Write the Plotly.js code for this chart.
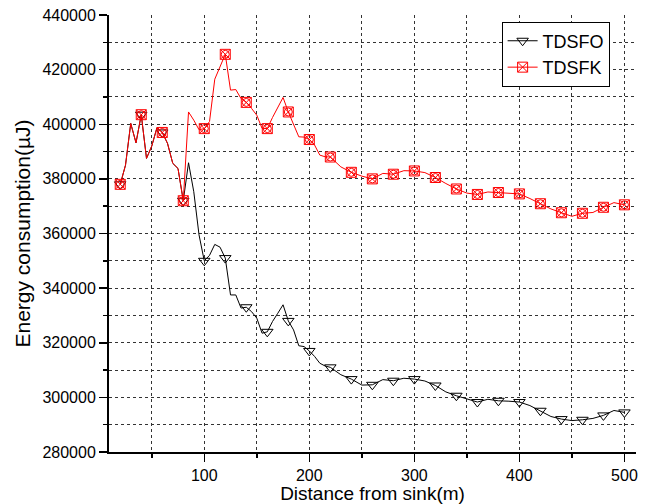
<!DOCTYPE html>
<html>
<head>
<meta charset="utf-8">
<script src="https://cdn.plot.ly/plotly-3.0.1.min.js"></script>
<style>html,body{margin:0;padding:0;background:#fff;}#chart{width:660px;height:504px;}</style>
</head>
<body>
<div id="chart"></div>
<script>
// Distance from sink (m)
var distance = [20,25,30,35,40,45,50,55,60,65,70,75,80,85,90,95,100,105,110,115,120,125,130,135,140,145,150,155,160,165,170,175,180,185,190,195,200,205,210,215,220,
  230,240,250,260,270,280,290,300,310,320,330,340,350,360,370,380,390,400,410,420,430,440,450,460,470,480,490,500];

// Energy consumption (uJ)
var tdsfo = [378000,385000,400300,393200,403500,387500,392000,398800,397000,393000,385700,383800,372000,385900,375300,359500,350000,352000,356000,355000,351000,337500,337500,332700,333000,331400,329000,323500,324000,327800,330800,333900,328000,324700,318900,318600,317000,315000,312500,311500,311000,
  308300,306700,304500,304600,306500,306100,307000,306700,306000,304350,302000,300600,299400,298300,299300,298750,298600,298300,297000,295100,293000,292050,291500,291800,292300,293400,295200,294500];

var tdsfk = [378000,385000,400300,393200,403500,387500,392000,398800,397000,393000,385700,383800,372000,404500,401500,398000,398400,401000,416500,421000,425600,412500,412700,409400,408000,405800,403300,398500,398400,402500,406400,409800,404500,399700,395400,395300,394400,392400,388700,388100,388000,
  384400,382400,381000,380000,382000,381700,383000,382900,382300,380500,378300,376300,374800,374300,375200,375000,374800,374500,372800,370900,369000,367600,366300,367400,367700,369600,371300,370500];

var seriesNames = ['TDSFO', 'TDSFK'];
var xTickVals = [100, 200, 300, 400, 500];
var xTickText = ['100', '200', '300', '400', '500'];
var yTickVals = [280000, 300000, 320000, 340000, 360000, 380000, 400000, 420000, 440000];
var yTickText = ['280000', '300000', '320000', '340000', '360000', '380000', '400000', '420000', '440000'];

function markerSubset(xs, ys) {
  var mx = [], my = [];
  for (var i = 0; i < xs.length; i++) {
    if (xs[i] % 20 === 0) { mx.push(xs[i]); my.push(ys[i]); }
  }
  return {x: mx, y: my};
}
var mo = markerSubset(distance, tdsfo);
var mk = markerSubset(distance, tdsfk);

var FONT = 'Liberation Sans, Arial, sans-serif';
var black = '#000000', red = '#ff0000';

var traces = [
  {x: distance, y: tdsfo, mode: 'lines', line: {color: black, width: 1}, showlegend: false, hoverinfo: 'skip'},
  {x: mo.x, y: mo.y, mode: 'markers', marker: {symbol: 'triangle-down-open', size: 10, color: black, line: {width: 1, color: black}}, showlegend: false},
  {x: distance, y: tdsfk, mode: 'lines', line: {color: red, width: 1}, showlegend: false, hoverinfo: 'skip'},
  {x: mk.x, y: mk.y, mode: 'markers', marker: {symbol: 'square-x-open', size: 10, color: red, line: {width: 1, color: red}}, showlegend: false},
  {x: mk.x, y: mk.y, mode: 'markers', marker: {symbol: 'circle-open', size: 8, color: red, line: {width: 1, color: red}}, showlegend: false},
  {x: [null], y: [null], name: seriesNames[0], mode: 'lines+markers', line: {color: black, width: 1}, marker: {symbol: 'triangle-down-open', size: 10, color: black, line: {width: 1, color: black}}},
  {x: [null], y: [null], name: seriesNames[1], mode: 'lines+markers', line: {color: red, width: 1}, marker: {symbol: 'square-x-open', size: 10, color: red, line: {width: 1, color: red}}}
];

var xr = [9.3, 511];
var yr = [280000, 440000];
var gridStyle = {showgrid: true, griddash: 'dot', gridcolor: '#333333', gridwidth: 1};

var layout = {
  width: 660, height: 504,
  margin: {l: 109, r: 24, t: 15, b: 52},
  paper_bgcolor: '#ffffff', plot_bgcolor: '#ffffff',
  font: {family: FONT, color: black, size: 16},
  showlegend: true,
  legend: {x: 0.745, y: 0.985, xanchor: 'left', yanchor: 'top', bgcolor: '#ffffff', bordercolor: black, borderwidth: 1,
           font: {family: FONT, size: 18, color: black}, tracegroupgap: 0},
  xaxis: {
    range: xr, tickmode: 'array', tickvals: xTickVals, ticktext: xTickText,
    ticks: 'outside', ticklen: 8, tickwidth: 1.5, tickcolor: black,
    showline: true, linewidth: 2, linecolor: black, showgrid: false, zeroline: false,
    minor: Object.assign({dtick: 50, tick0: 0, ticks: 'outside', ticklen: 4, tickwidth: 1.5, tickcolor: black}, gridStyle),
    tickfont: {family: FONT, size: 16, color: black},
    title: {text: 'Distance from sink(m)', font: {family: FONT, size: 19, color: black}, standoff: 4}
  },
  yaxis: {
    range: yr, tickmode: 'array', tickvals: yTickVals, ticktext: yTickText,
    ticks: 'outside', ticklen: 8, tickwidth: 1.5, tickcolor: black,
    showline: true, linewidth: 2, linecolor: black, showgrid: false, zeroline: false,
    minor: Object.assign({dtick: 10000, tick0: 0, ticks: 'outside', ticklen: 4, tickwidth: 1.5, tickcolor: black}, gridStyle),
    tickfont: {family: FONT, size: 16, color: black},
    title: {text: 'Energy consumption(\u00b5J)', font: {family: FONT, size: 21, color: black}, standoff: 6}
  },
  xaxis2: {
    overlaying: 'x', side: 'top', anchor: 'y', range: xr, tickmode: 'array', tickvals: xTickVals,
    ticks: 'inside', ticklen: 8, tickwidth: 1.5, tickcolor: black, showticklabels: false,
    showline: true, linewidth: 2, linecolor: black, showgrid: false, zeroline: false,
    minor: {dtick: 50, tick0: 0, ticks: 'inside', ticklen: 4, tickwidth: 1.5, tickcolor: black, showgrid: false}
  },
  yaxis2: {
    overlaying: 'y', side: 'right', anchor: 'x', range: yr, tickmode: 'array', tickvals: yTickVals,
    ticks: 'inside', ticklen: 8, tickwidth: 1.5, tickcolor: black, showticklabels: false,
    showline: true, linewidth: 2, linecolor: black, showgrid: false, zeroline: false,
    minor: {dtick: 10000, tick0: 0, ticks: 'inside', ticklen: 4, tickwidth: 1.5, tickcolor: black, showgrid: false}
  }
};

Plotly.newPlot('chart', traces, layout, {displayModeBar: false, staticPlot: true});
</script>
</body>
</html>
